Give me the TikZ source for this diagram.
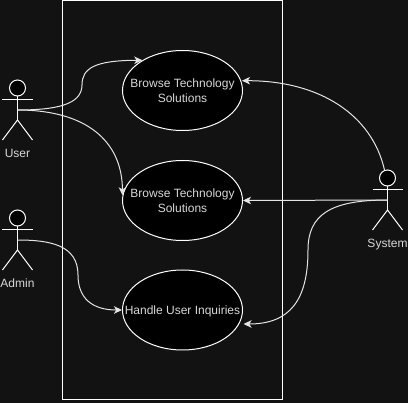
\documentclass[tikz,border=0pt]{standalone}
\usepackage{fontspec}
\setmainfont{Liberation Sans}
\usetikzlibrary{arrows.meta,shapes.geometric}
\definecolor{bgc}{HTML}{121212}
\definecolor{txt}{HTML}{D8D8D8}
\tikzset{
  usecase/.style={ellipse,draw=white,fill=black,line width=0.75pt,minimum width=90pt,minimum height=60pt,inner sep=0pt},
  uctext/.style={text=txt,font=\fontsize{9}{11.25}\selectfont,align=center,inner sep=0pt},
  actortext/.style={text=txt,font=\fontsize{9}{11.25}\selectfont,inner sep=0pt,text height=6.5pt,text depth=0pt},
  limb/.style={draw=white,line width=0.75pt},
  head/.style={circle,draw=white,fill=black,line width=0.75pt,minimum size=12pt,inner sep=0pt},
  conn/.style={draw=white!90!black,line width=0.75pt,-{Stealth[length=6pt,width=5.6pt,inset=1.6pt]}},
}
\newcommand{\umlactor}[4]{% name, x, head y, label
  \node[head] (#1head) at (#2,#3) {};
  \coordinate (#1neck) at (#2,#3+8);
  \coordinate (#1port) at (#2,#3+22);
  \coordinate (#1hip) at (#2,#3+32);
  \draw[limb] (#1neck) -- (#1hip);
  \draw[limb] (#2-15,#3+12) -- (#2+15,#3+12);
  \draw[limb] (#2-15,#3+52) -- (#1hip) -- (#2+15,#3+52);
  \node[actortext] (#1label) at (#2,#3+65) {#4};
}
\begin{document}
\begin{tikzpicture}[x=0.75pt,y=-0.75pt]
\useasboundingbox (0,0) rectangle (408,403);
\fill[bgc] (0,0) rectangle (408,403);
\node[draw=white,line width=0.75pt,minimum width=165pt,minimum height=299.25pt,inner sep=0pt] (boundary) at (172.5,200) {};

\umlactor{user}{17.5}{88}{User}
\umlactor{admin}{17.5}{218}{Admin}
\umlactor{system}{387.5}{178}{System}

\node[usecase,label={[uctext]center:Browse Technology\\Solutions}] (uc1) at (182.5,90.5) {};
\node[usecase,label={[uctext]center:Browse Technology\\Solutions}] (uc2) at (182.5,200.5) {};
\node[usecase,label={[uctext,text height=6.5pt,text depth=0pt]center:Handle User Inquiries}] (uc3) at (182.5,310) {};

\coordinate (systop) at (384.5,170);
\coordinate (uc1in) at (242,80.7);
\coordinate (uc3in) at (243.5,324);

\draw[conn] (userport) .. controls (55,110) and (82,105) .. (82,85) .. controls (82,68) and (95,60.5) .. (uc1.143.5);
\draw[conn] (userport) .. controls (85,110) and (122,140) .. (uc2.175.7);
\draw[conn] (adminport) .. controls (50,240) and (78,245) .. (78,275) .. controls (78,298) and (92,310) .. (uc3.west);
\draw[conn] (systop) .. controls (372,115) and (320,80.7) .. (uc1in);
\draw[conn] (systemport) -- (uc2.east);
\draw[conn] (systemport) .. controls (330,200) and (308,215) .. (308,250) .. controls (308,300) and (290,324) .. (uc3in);
\end{tikzpicture}
\end{document}
